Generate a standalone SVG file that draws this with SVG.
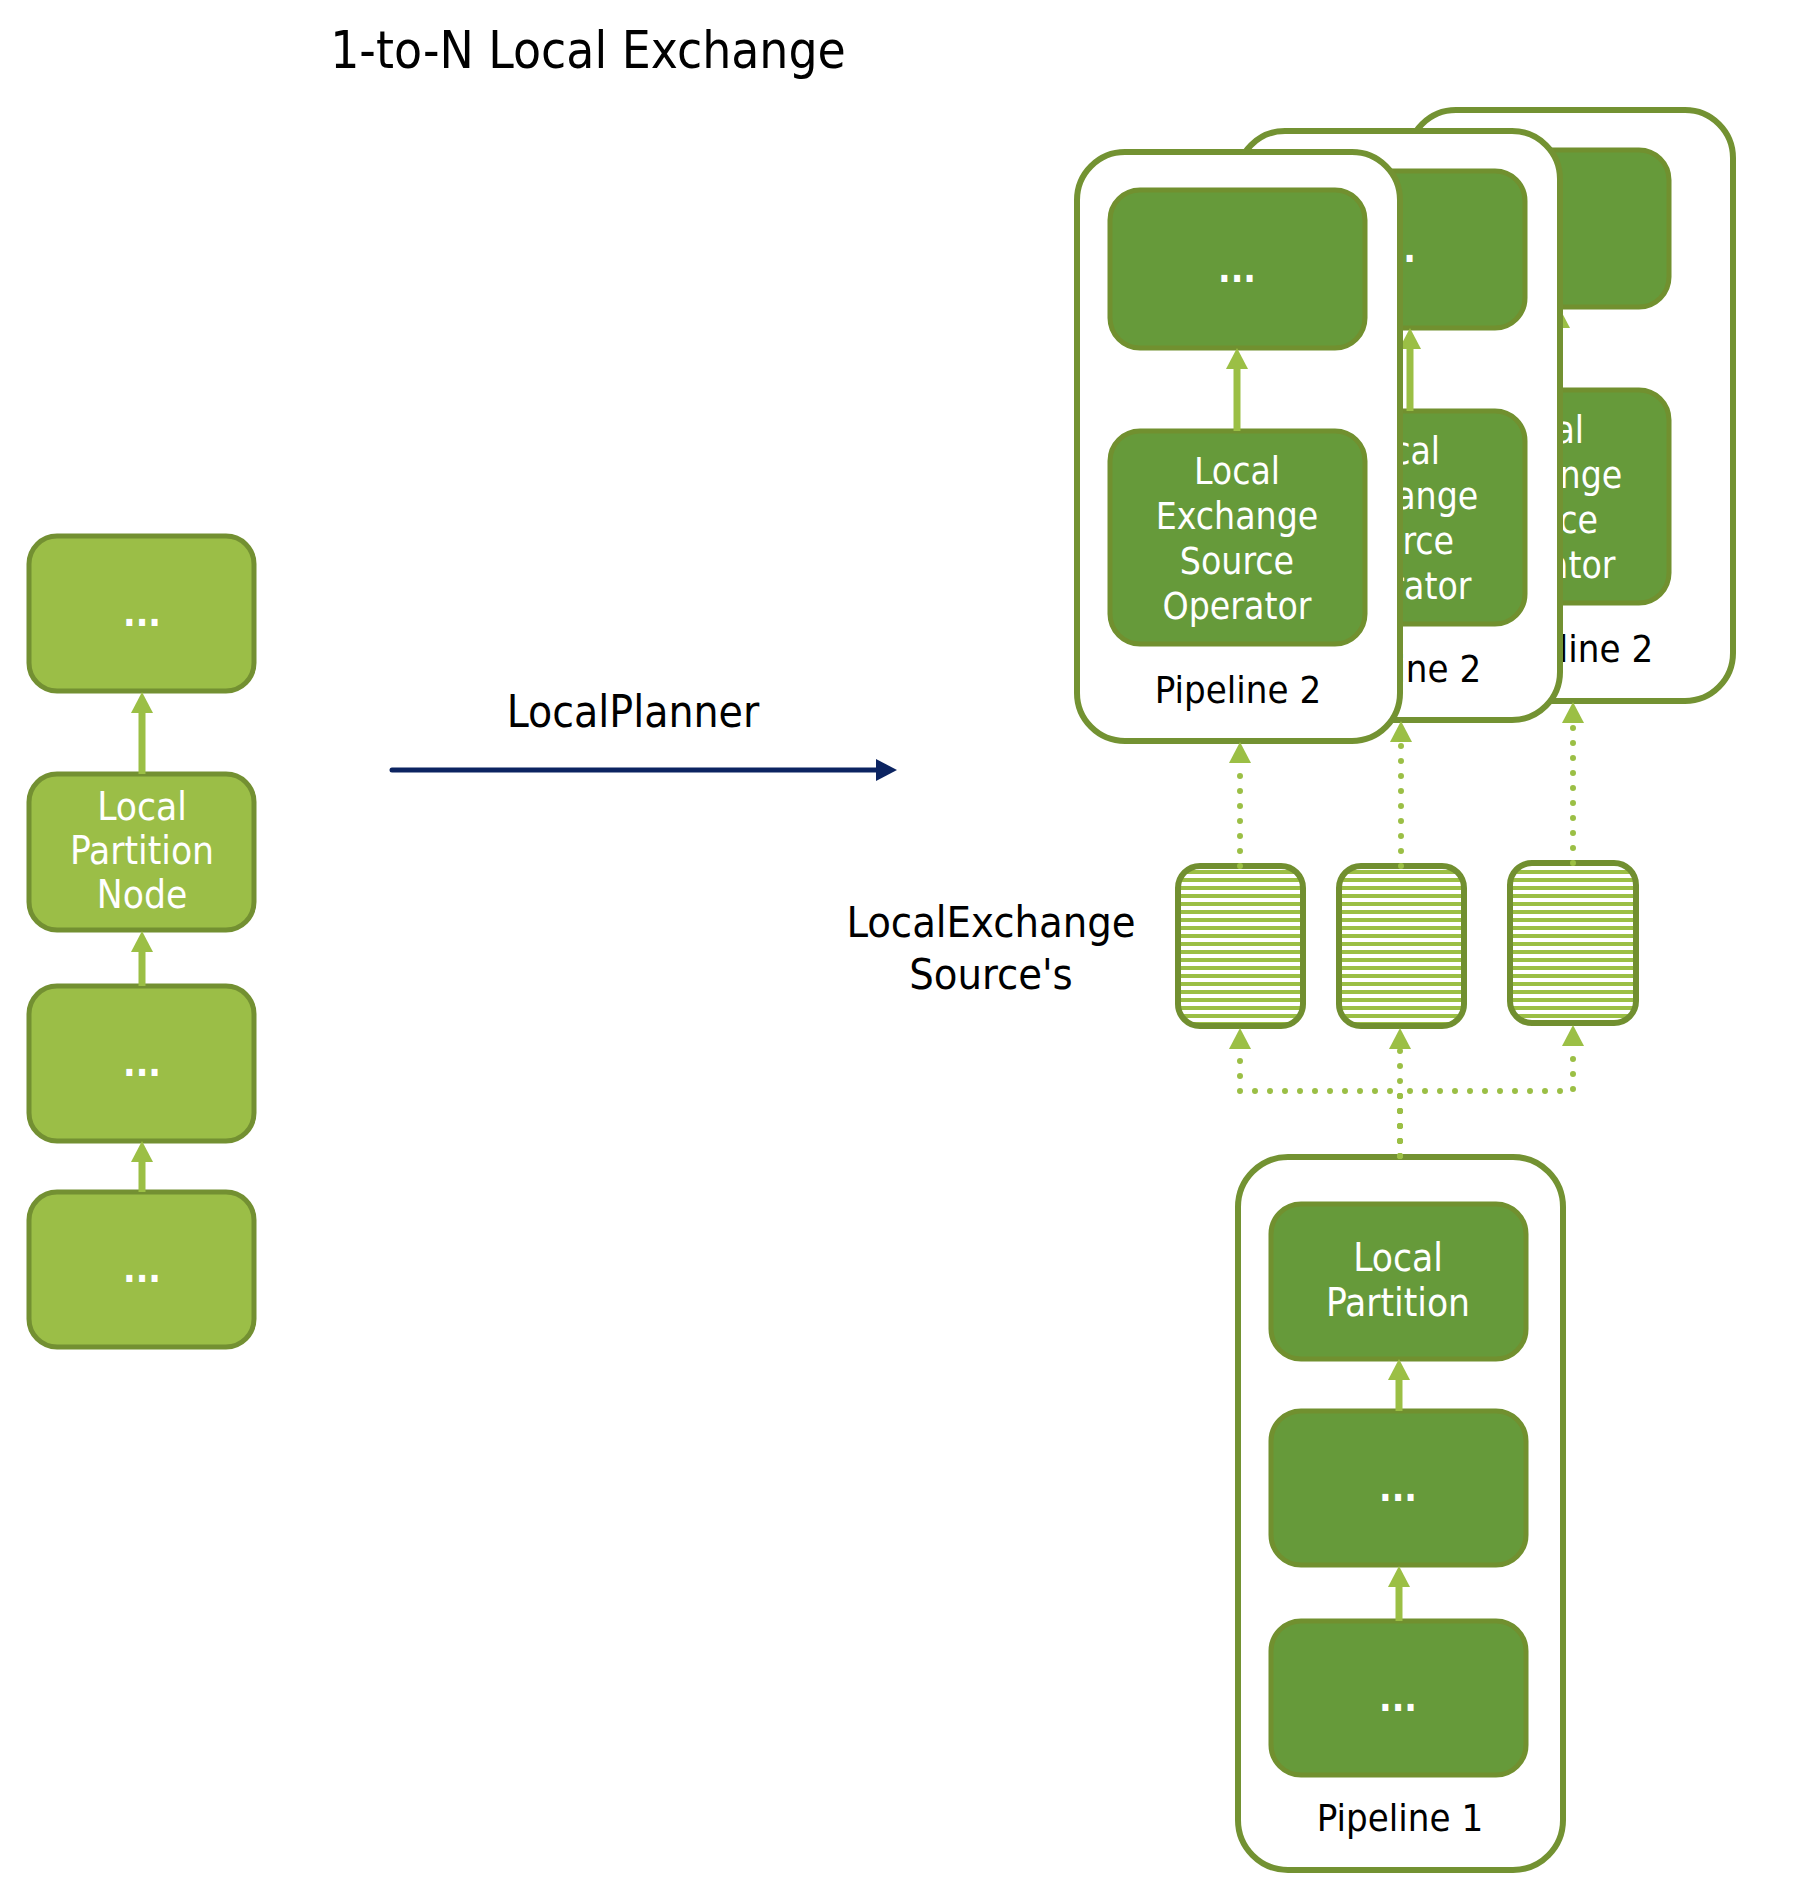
<svg xmlns="http://www.w3.org/2000/svg" width="1794" height="1898" viewBox="0 0 1794 1898">
<style>
.t{font-family:"DejaVu Sans Condensed","Liberation Sans",sans-serif;text-anchor:middle}
.w{fill:#ffffff;font-size:37px}
.b{font-size:38.5px}
.d{font-weight:bold}
.k{fill:#000000}
.card{fill:#ffffff;stroke:#739232;stroke-width:6}
.op{fill:#669a3a;stroke:#71902f;stroke-width:5}
.lop{fill:#9bbe47;stroke:#739032;stroke-width:5}
.hb{fill:url(#stripes);stroke:#718f30;stroke-width:6}
.edge{stroke:#9bbf45;stroke-width:7;fill:none;marker-end:url(#ah)}
.dot{stroke:#9bbf45;stroke-width:6;stroke-dasharray:0 15;stroke-linecap:round;fill:none}
.dotA{marker-end:url(#ah)}
</style>
<defs>
<marker id="ah" markerUnits="userSpaceOnUse" markerWidth="22" markerHeight="22" viewBox="0 0 21 22" refX="0" refY="11" orient="auto"><path d="M0,0 L21,11 L0,22 z" fill="#9bbf45"/></marker>
<marker id="nav" markerUnits="userSpaceOnUse" markerWidth="22" markerHeight="22" viewBox="0 0 21 22" refX="0" refY="11" orient="auto"><path d="M0,0 L21,11 L0,22 z" fill="#0c2461"/></marker>
<pattern id="stripes" patternUnits="userSpaceOnUse" x="0" y="6" width="8" height="8"><rect width="8" height="8" fill="#ffffff"/><rect width="8" height="4" fill="#9bbf45"/></pattern>
</defs>
<rect width="1794" height="1898" fill="#ffffff"/>

<text class="t k" x="588" y="68" font-size="51">1-to-N Local Exchange</text>

<!-- Left column: logical plan -->
<g id="left-top"><rect class="lop" x="29" y="536" width="225" height="155" rx="28"/><text class="t w d" x="142" y="626">...</text></g>
<g id="left-partition"><rect class="lop" x="29" y="774" width="225" height="156" rx="28"/><text class="t w b" x="142" y="820">Local</text><text class="t w b" x="142" y="864">Partition</text><text class="t w b" x="142" y="908">Node</text></g>
<g id="left-mid"><rect class="lop" x="29" y="986" width="225" height="155" rx="28"/><text class="t w d" x="142" y="1076">...</text></g>
<g id="left-bottom"><rect class="lop" x="29" y="1192" width="225" height="155" rx="28"/><text class="t w d" x="142" y="1282">...</text></g>

<!-- LocalPlanner -->
<g id="planner"><text class="t k" x="633" y="727" font-size="44">LocalPlanner</text></g>

<!-- Pipeline 2 (back copy) -->
<g id="pipeline2-c">
<rect class="card" x="1408" y="110" width="325" height="591" rx="48"/>
<rect class="op" x="1414" y="150" width="255" height="157" rx="30"/>
<text class="t w d" x="1541" y="241">...</text>
<rect class="op" x="1414" y="390" width="255" height="213" rx="30"/>
<text class="t w" x="1541" y="443">Local</text><text class="t w" x="1541" y="488">Exchange</text><text class="t w" x="1541" y="533">Source</text><text class="t w" x="1541" y="578">Operator</text>
<text class="t k" x="1570" y="662" font-size="38">Pipeline 2</text>
<g class="connectors"><path class="edge" d="M1559,390 V328"/></g>
</g>

<!-- Pipeline 2 (middle copy) -->
<g id="pipeline2-b">
<rect class="card" x="1237" y="131" width="323" height="589" rx="48"/>
<rect class="op" x="1270" y="171" width="255" height="157" rx="30"/>
<text class="t w d" x="1397" y="262">...</text>
<rect class="op" x="1270" y="411" width="255" height="213" rx="30"/>
<text class="t w" x="1397" y="464">Local</text><text class="t w" x="1397" y="509">Exchange</text><text class="t w" x="1397" y="554">Source</text><text class="t w" x="1397" y="599">Operator</text>
<text class="t k" x="1398" y="682" font-size="38">Pipeline 2</text>
<g class="connectors"><path class="edge" d="M1410,411 V349"/></g>
</g>

<!-- Pipeline 2 (front) -->
<g id="pipeline2-a">
<rect class="card" x="1077" y="152" width="323" height="589" rx="48"/>
<rect class="op" x="1110" y="190" width="255" height="158" rx="30"/>
<text class="t w d" x="1237" y="282">...</text>
<rect class="op" x="1110" y="431" width="255" height="213" rx="30"/>
<text class="t w" x="1237" y="484">Local</text><text class="t w" x="1237" y="529">Exchange</text><text class="t w" x="1237" y="574">Source</text><text class="t w" x="1237" y="619">Operator</text>
<text class="t k" x="1238" y="703" font-size="38">Pipeline 2</text>
<g class="connectors"><path class="edge" d="M1237,431 V369"/></g>
</g>

<!-- LocalExchange sources -->
<g id="les-label"><text class="t k" x="991" y="937" font-size="43">LocalExchange</text><text class="t k" x="991" y="989" font-size="43">Source's</text></g>
<g id="les-1"><rect class="hb" x="1178" y="866" width="125" height="160" rx="22"/></g>
<g id="les-2"><rect class="hb" x="1339" y="866" width="125" height="160" rx="22"/></g>
<g id="les-3"><rect class="hb" x="1510" y="863" width="126" height="160" rx="22"/></g>

<!-- Pipeline 1 -->
<g id="pipeline1">
<rect class="card" x="1238" y="1157" width="325" height="713" rx="50"/>
<g id="p1-partition"><rect class="op" x="1271" y="1204" width="255" height="155" rx="30"/><text class="t w b" x="1398" y="1271">Local</text><text class="t w b" x="1398" y="1316">Partition</text></g>
<g id="p1-mid"><rect class="op" x="1271" y="1411" width="255" height="154" rx="30"/><text class="t w d" x="1398" y="1501">...</text></g>
<g id="p1-bottom"><rect class="op" x="1271" y="1621" width="255" height="154" rx="30"/><text class="t w d" x="1398" y="1711">...</text></g>
<text class="t k" x="1400" y="1831" font-size="38">Pipeline 1</text>
</g>

<!-- Connectors -->
<g id="connectors">
<path class="edge" d="M142,774 V713"/>
<path class="edge" d="M142,986 V952"/>
<path class="edge" d="M142,1192 V1162"/>
<path class="edge" d="M1399,1411 V1380"/>
<path class="edge" d="M1399,1621 V1587"/>
<path d="M392,770 H876" stroke="#0c2461" stroke-width="5" stroke-linecap="round" fill="none" marker-end="url(#nav)"/>
<path class="dot dotA" d="M1240,866 V763"/>
<path class="dot dotA" d="M1401,866 V742"/>
<path class="dot dotA" d="M1573,863 V723"/>
<path class="dot dotA" d="M1400,1156 V1091 H1240 V1049"/>
<path class="dot dotA" d="M1400,1156 V1049"/>
<path class="dot dotA" d="M1400,1156 V1091 H1573 V1046"/>
</g>
</svg>
